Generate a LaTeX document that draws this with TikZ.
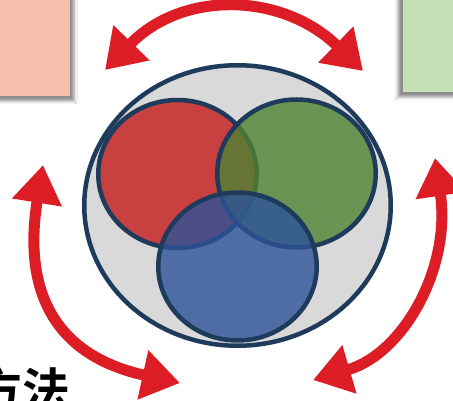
\documentclass[tikz,border=0pt]{standalone}
\usepackage{fontspec}
\newfontfamily\cjkb{Noto Sans CJK SC Bold}
\usetikzlibrary{arrows.meta,shapes.geometric,shadows.blur}

\definecolor{arrowred}{RGB}{221,29,37}
\definecolor{rim}{RGB}{31,59,92}
\definecolor{setgray}{RGB}{217,217,217}
\definecolor{setred}{RGB}{196,26,26}
\definecolor{setgreen}{RGB}{78,131,50}
\definecolor{setblue}{RGB}{45,83,153}
\definecolor{cardpink}{RGB}{245,190,173}
\definecolor{cardgreen}{RGB}{197,224,181}

\tikzset{
  headtip/.tip={Triangle[width=48pt,length=38pt]},
  cyclearrow/.style={draw=arrowred, line width=11pt, headtip-headtip},
  ring/.style={ellipse, draw=rim, line width=4.5pt, inner sep=0pt, outer sep=0pt},
  setdisk/.style={ring, fill opacity=0.8, minimum width=158.5pt, minimum height=148pt},
  card/.style={rectangle, draw=none, inner sep=0pt, outer sep=0pt},
}

\begin{document}
\begin{tikzpicture}[x=1pt,y=1pt]
\useasboundingbox (0,0) rectangle (453,400);
\clip (0,0) rectangle (453,400);
\fill[white] (0,0) rectangle (453,400);

% side cards
\node[card, fill=cardpink, minimum width=80pt, minimum height=106pt,
      blur shadow={shadow xshift=4pt, shadow yshift=-5pt, shadow blur radius=3pt, shadow opacity=45}]
      (leftcard) at (30,357) {};
\node[card, fill=cardgreen, minimum width=60pt, minimum height=102pt,
      blur shadow={shadow xshift=-5pt, shadow yshift=-5pt, shadow blur radius=3pt, shadow opacity=45}]
      (rightcard) at (433,359) {};

% Venn diagram
\node[ring, fill=setgray, minimum width=306.5pt, minimum height=280.5pt] (whole) at (237.5,194.5) {};
\node[setdisk, fill=setred]   (setA) at (177.5,226) {};
\node[setdisk, fill=setgreen] (setB) at (296.5,226.5) {};
\node[setdisk, fill=setblue]  (setC) at (237.5,133.5) {};

% cycle arrows
\coordinate (topL) at (105,330);
\coordinate (topR) at (363,329);
\coordinate (leftU) at (43,235);
\coordinate (leftD) at (180,17);
\coordinate (rightU) at (435,242);
\coordinate (rightD) at (313,20);

\draw[cyclearrow] (topL) .. controls (183.2,410.4) and (282.6,407.2) .. (topR);
\draw[cyclearrow] (leftU) .. controls (22.5,108.3) and (54.9,44.4) .. (leftD);
\draw[cyclearrow] (rightU) .. controls (451.3,133.2) and (404.2,46.6) .. (rightD);

% caption
\node[anchor=base west, inner sep=0pt, font=\cjkb\fontsize{48}{48}\selectfont] (caption) at (-26,-8) {方法};
\end{tikzpicture}
\end{document}
